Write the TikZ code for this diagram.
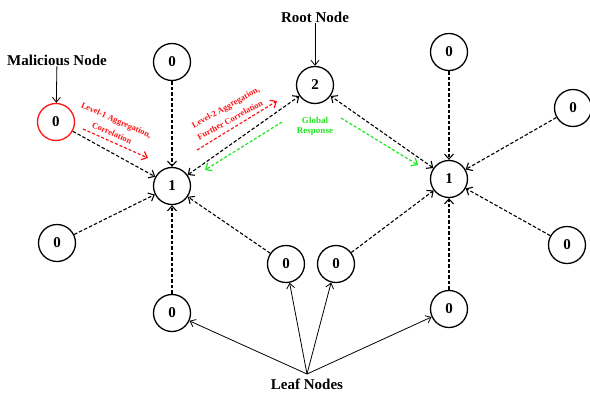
\documentclass[tikz,border=0pt]{standalone}
\usepackage{fontspec}
\setmainfont{Liberation Serif}
\usetikzlibrary{arrows.meta}
\definecolor{gr}{RGB}{30,230,30}
\definecolor{rd}{RGB}{255,20,20}
\begin{document}
\begin{tikzpicture}[x=1pt,y=-1pt,
  nd/.style={circle,draw,line width=1.3pt,minimum size=37pt,inner sep=0pt,font=\bfseries\fontsize{15}{16}\selectfont},
  dl/.style={line width=1.1pt,dash pattern=on 3.5pt off 2pt,-{Straight Barb[length=5pt,width=9pt]}},
  dd/.style={line width=1.1pt,dash pattern=on 3.5pt off 2pt,{Straight Barb[length=5pt,width=9pt]}-{Straight Barb[length=5pt,width=9pt]}},
  sl/.style={line width=0.8pt,-{Straight Barb[length=5pt,width=8pt]}},
  lbl/.style={font=\bfseries\fontsize{15}{16}\selectfont,inner sep=1pt},
  rl/.style={text=rd,font=\bfseries\fontsize{8.5}{10}\selectfont,inner sep=0pt},
  gl/.style={text=gr,font=\bfseries\fontsize{9}{10}\selectfont,inner sep=0pt},
  ra/.style={draw=rd,line width=1.2pt,dash pattern=on 3pt off 2pt,-{Straight Barb[length=5pt,width=9pt]}},
  ga/.style={draw=gr,line width=1.2pt,dash pattern=on 3pt off 2pt,-{Straight Barb[length=5pt,width=9pt]}}]
\useasboundingbox (0,0) rectangle (590,397);
% nodes
\node[nd,draw=rd] (M) at (56,122) {0};
\node[nd] (A) at (172,62) {0};
\node[nd] (H1) at (172,186) {1};
\node[nd] (R) at (315,85) {2};
\node[nd] (H2) at (449,179) {1};
\node[nd] (B) at (449,52) {0};
\node[nd] (C) at (573,108) {0};
\node[nd] (D) at (57,243) {0};
\node[nd] (E) at (172,313) {0};
\node[nd] (F) at (286,264) {0};
\node[nd] (G) at (336,264) {0};
\node[nd] (I) at (449,309) {0};
\node[nd] (J) at (567,245) {0};
% labels
\node[lbl] (mal) at (57,60) {Malicious Node};
\node[lbl] (root) at (315,17) {Root Node};
\node[lbl] (leaf) at (307,384) {Leaf Nodes};
\coordinate (lp) at (307,374);
\draw[sl] (mal) -- (M);
\draw[sl] (root) -- (R);
\draw[sl] (lp) -- (E);
\draw[sl] (lp) -- (F);
\draw[sl] (lp) -- (G);
\draw[sl] (lp) -- (I);
% dashed edges
\draw[dl] (M) -- (H1);
\draw[dl] (A) -- (H1);
\draw[dl] (D) -- (H1);
\draw[dl] (E) -- (H1);
\draw[dl] (F) -- (H1);
\draw[dd] (H1) -- (R);
\draw[dd] (H2) -- (R);
\draw[dl] (B) -- (H2);
\draw[dl] (C) -- (H2);
\draw[dl] (G) -- (H2);
\draw[dl] (I) -- (H2);
\draw[dl] (J) -- (H2);
% annotations
\node[rl,rotate=-24] (t1a) at (116,121) {Level-1 Aggregation,};
\node[rl,rotate=-24] (t1b) at (112,133) {Correlation};
\coordinate (r1a) at (83,129);
\coordinate (r1b) at (148,158);
\draw[ra] (r1a) -- (r1b);
\node[rl,rotate=29] (t2a) at (226,108) {Level-2 Aggregation,};
\node[rl,rotate=29] (t2b) at (230,120) {Further Correlation};
\coordinate (r2a) at (197,150);
\coordinate (r2b) at (277,101);
\draw[ra] (r2a) -- (r2b);
\node[gl] (t3a) at (315,120) {Global};
\node[gl] (t3b) at (315,132) {Response};
\coordinate (g1a) at (282,122);
\coordinate (g1b) at (205,170);
\draw[ga] (g1a) -- (g1b);
\coordinate (g2a) at (341,118);
\coordinate (g2b) at (418,165);
\draw[ga] (g2a) -- (g2b);
\end{tikzpicture}
\end{document}
